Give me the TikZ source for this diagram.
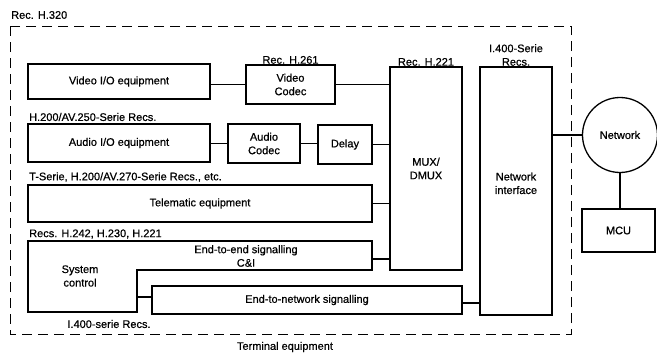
\documentclass[tikz,border=0pt]{standalone}
\usepackage{fontspec}
\setmainfont{Liberation Sans}[FakeBold=0.6]
\begin{document}
\begin{tikzpicture}[x=1pt,y=-1pt,
  every node/.style={font=\fontsize{11}{13.5}\selectfont, inner sep=1pt},
  box/.style={draw, line width=1.3pt, anchor=north west, align=center, inner sep=0pt, outer sep=0pt},
  lbl/.style={inner sep=1pt},
  conn/.style={line width=1.3pt},
  frame/.style={line width=1pt, dash pattern=on 10pt off 6pt}]
\useasboundingbox (0,0) rectangle (657,356);
% dashed terminal equipment frame
\draw[frame] (10,26) rectangle (571,334);
\node[lbl, anchor=west] (h320) at (10,15) {Rec. H.320};
\node[lbl] (term) at (285,347) {Terminal equipment};
% boxes
\node[box, minimum width=182, minimum height=35] (vio) at (28,64) {Video I/O equipment};
\node[box, minimum width=89, minimum height=39] (vcodec) at (246,65) {Video\\Codec};
\node[box, minimum width=182, minimum height=38] (aio) at (28,124) {Audio I/O equipment};
\node[box, minimum width=72, minimum height=39] (acodec) at (228,124) {Audio\\Codec};
\node[box, minimum width=54, minimum height=39] (delay) at (318,125) {Delay};
\node[box, minimum width=344, minimum height=37] (tele) at (28,185) {Telematic equipment};
\node[box, minimum width=72, minimum height=203] (mux) at (390,67) {MUX/\\DMUX};
\node[box, minimum width=72, minimum height=248] (netif) at (480,67) {Network\\interface\\[2pt]};
\node[box, minimum width=310, minimum height=28] (e2n) at (152,286) {End-to-network signalling};
\node[box, minimum width=73, minimum height=43] (mcu) at (582,209) {MCU};
\node[draw, circle, line width=1.3pt, minimum size=75, inner sep=0pt, outer sep=0pt] (net) at (620,135) {Network};
% system control / end-to-end signalling shape
\draw[line width=1.3pt] (28,241) -- (372,241) -- (372,270) -- (137,270) -- (137,312) -- (28,312) -- cycle;
\node[lbl, align=center] (sysc) at (80,276) {System\\control};
\node[lbl, align=center] (e2e) at (246,256) {End-to-end signalling\\C\&I};
\coordinate (e2eR) at (372,259);
\coordinate (scR) at (137,297);
% labels
\node[lbl, anchor=south] (h261) at (vcodec.north) {Rec. H.261};
\node[lbl, anchor=south] (h221) at (mux.north) {Rec. H.221};
\node[lbl, anchor=south, align=center] (i400) at (netif.north) {I.400-Serie\\Recs.};
\node[lbl, anchor=west] (h250) at (28,117) {H.200/AV.250-Serie Recs.};
\node[lbl, anchor=west] (h270) at (28,177) {T-Serie, H.200/AV.270-Serie Recs., etc.};
\node[lbl, anchor=west] (h242) at (28,234) {Recs. H.242, H.230, H.221};
\node[lbl] (i400b) at (109,324) {I.400-serie Recs.};
% connectors
\draw[conn] (vcodec.west) -- (vcodec.west -| vio.east);
\draw[conn] (vcodec.east) -- (vcodec.east -| mux.west);
\draw[conn] (acodec.west) -- (acodec.west -| aio.east);
\draw[conn] (acodec.east) -- (acodec.east -| delay.west);
\draw[conn] (delay.east) -- (delay.east -| mux.west);
\draw[conn] (tele.east) -- (tele.east -| mux.west);
\draw[conn] (e2eR) -- (e2eR -| mux.west);
\draw[conn] (scR) -- (scR -| e2n.west);
\draw[conn] ([yshift=-3pt]e2n.east) -- ([yshift=-3pt]e2n.east -| netif.west);
\draw[conn] (net.west) -- (net.west -| netif.east);
\draw[conn] (net.south) -- (net.south |- mcu.north);
\end{tikzpicture}
\end{document}
